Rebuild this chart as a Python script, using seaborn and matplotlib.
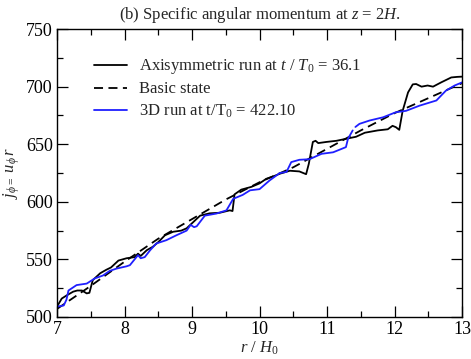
import numpy as np
import pandas as pd
import matplotlib
matplotlib.use("Agg")
import matplotlib.pyplot as plt
from matplotlib.lines import Line2D
from matplotlib.ticker import MultipleLocator
import seaborn as sns

# values
r_axi = [7.00, 7.07, 7.15, 7.24, 7.30, 7.37, 7.44, 7.48, 7.53, 7.64, 7.73, 7.80, 7.91,
         8.03, 8.15, 8.20, 8.24, 8.33, 8.42, 8.50, 8.60, 8.72, 8.84, 8.92, 9.02, 9.12,
         9.26, 9.41, 9.56, 9.60, 9.63, 9.73, 9.88, 10.00, 10.10, 10.20, 10.30, 10.45,
         10.59, 10.69, 10.73, 10.79, 10.83, 10.87, 10.99, 11.14, 11.28, 11.43, 11.56,
         11.75, 11.90, 11.97, 12.02, 12.07, 12.12, 12.20, 12.27, 12.32, 12.40, 12.49,
         12.57, 12.69, 12.84, 12.93, 13.00]
j_axi = [509, 516, 519, 522, 523, 523, 520.5, 521, 532, 538, 541, 543, 549,
         551, 552, 555, 553, 558, 561, 565, 571, 574, 575, 577, 582.5, 588,
         590, 590.5, 592.6, 592, 606.5, 610.6, 613, 616, 620, 622, 624.4, 627,
         626.4, 624, 633, 652, 653, 651, 652, 653, 654.7, 656.5, 660,
         662, 663, 666, 664.8, 662.5, 679, 695, 702, 702.3, 700, 701,
         700, 703.7, 708, 708.5, 708.7]

r_basic = [7.0, 7.5, 8.0, 8.5, 9.0, 9.5, 10.0, 10.5, 11.0, 11.5, 12.0, 12.5, 13.0]
j_basic = [507, 527, 548, 568, 585, 602, 617, 630, 646, 662, 677, 690, 703]

r_3d_a = [7.00, 7.10, 7.14, 7.17, 7.29, 7.44, 7.56, 7.68, 7.78, 7.88, 8.03, 8.08,
          8.20, 8.24, 8.30, 8.38, 8.47, 8.62, 8.77, 8.92, 8.98, 9.03, 9.07, 9.19,
          9.36, 9.51, 9.61, 9.75, 9.86, 10.00, 10.15, 10.30, 10.40, 10.47, 10.59,
          10.74, 10.92, 11.09, 11.28, 11.31, 11.38]
j_3d_a = [509, 510, 515, 523, 527.7, 529, 533.5, 536, 540, 542, 544, 545,
          553.7, 551, 552, 558, 563.8, 566.7, 571, 575, 580, 578, 578.8, 588,
          589.8, 592.6, 602.6, 606, 610, 611, 618.6, 625, 626, 634.5, 636.5,
          637, 641.7, 643, 647.5, 654.7, 662]
r_3d_b = [11.42, 11.48, 11.63, 11.83, 12.02, 12.17, 12.37, 12.62, 12.76, 12.89, 13.00]
j_3d_b = [665, 667.7, 670.6, 673.4, 677.8, 679, 683.5, 688, 696.5, 701, 703.7]

labels = [r"Axisymmetric run at $t\ /\ T_{\mathit{0}}$ = $\mathit{36.1}$",
          "Basic state",
          r"3D run at t/T$_{\mathrm{0}}$ = 422.10"]

sns.set_style("ticks")
plt.rcParams["font.family"] = ["Liberation Serif", "DejaVu Serif"]
plt.rcParams["mathtext.fontset"] = "custom"
plt.rcParams["mathtext.rm"] = "Liberation Serif"
plt.rcParams["mathtext.it"] = "Liberation Serif:italic"

df_axi = pd.DataFrame({"r": r_axi, "j": j_axi})
df_basic = pd.DataFrame({"r": r_basic, "j": j_basic})
df_3d = pd.DataFrame({
    "r": r_3d_a + r_3d_b,
    "j": j_3d_a + j_3d_b,
    "part": [0] * len(r_3d_a) + [1] * len(r_3d_b),
})

fig = plt.figure(figsize=(4.71, 3.59), dpi=100)
ax = fig.add_axes([0.121, 0.117, 0.860, 0.802])

sns.lineplot(data=df_axi, x="r", y="j", color="black", lw=1.3, sort=False,
             estimator=None, ax=ax, legend=False)
sns.lineplot(data=df_basic, x="r", y="j", color="black", lw=1.3, sort=False,
             estimator=None, ax=ax, legend=False, linestyle=(0, (5, 3)))
sns.lineplot(data=df_3d, x="r", y="j", units="part", color="#1f1fff", lw=1.3,
             sort=False, estimator=None, ax=ax, legend=False)

ax.set_xlim(7, 13)
ax.set_ylim(500, 750)
ax.xaxis.set_major_locator(MultipleLocator(1))
ax.xaxis.set_minor_locator(MultipleLocator(0.5))
ax.yaxis.set_major_locator(MultipleLocator(50))
ax.yaxis.set_minor_locator(MultipleLocator(25))
ax.tick_params(which="both", direction="in", top=True, right=True,
               colors="black", labelsize=13, width=0.9)
ax.tick_params(which="major", length=8, pad=3)
ax.tick_params(which="minor", length=4)
for s in ax.spines.values():
    s.set_color("black")
    s.set_linewidth(1.0)

ax.set_xlabel(r"$r\ /\ H_{\mathit{0}}$", fontsize=12, labelpad=1)
ax.set_ylabel(r"$j_{\phi =}\ u_{\phi}\, r$", fontsize=12, labelpad=3)
ax.set_title(r"(b) Specific angular momentum at $z$ = $\mathit{2H.}$",
             fontsize=12, pad=7)

handles = [Line2D([], [], color="black", lw=1.3),
           Line2D([], [], color="black", lw=1.3, linestyle=(0, (5, 3))),
           Line2D([], [], color="#1f1fff", lw=1.3)]
ax.legend(handles, labels, loc="upper left", bbox_to_anchor=(0.075, 0.925),
          frameon=False, fontsize=12, handlelength=2.0, handletextpad=0.7,
          labelspacing=0.3, borderaxespad=0)

fig.savefig("out.png", dpi=100)
